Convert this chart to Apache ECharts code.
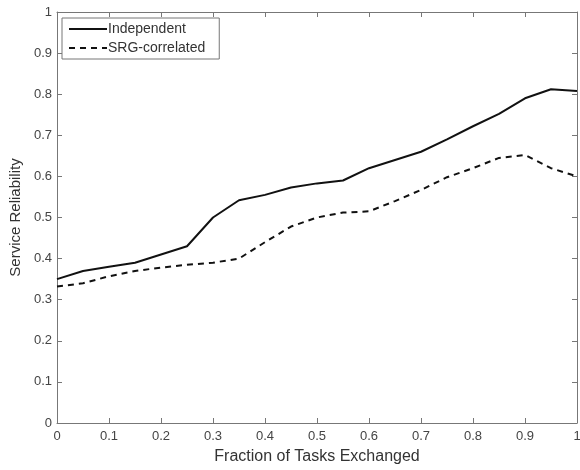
<!DOCTYPE html>
<html>
<head>
<meta charset="utf-8">
<script src="https://cdn.jsdelivr.net/npm/echarts@6/dist/echarts.min.js"></script>
<style>
  html, body { margin: 0; padding: 0; background: #fff; }
  #chart { width: 580px; height: 470px; }
</style>
</head>
<body>
<div id="chart"></div>
<script>
// fraction of tasks exchanged
var fractions = [0, 0.05, 0.1, 0.15, 0.2, 0.25, 0.3, 0.35, 0.4, 0.45, 0.5,
                 0.55, 0.6, 0.65, 0.7, 0.75, 0.8, 0.85, 0.9, 0.95, 1]
var independent = [0.35, 0.37, 0.38, 0.39, 0.41, 0.43, 0.50, 0.542, 0.555, 0.573, 0.583,
                   0.59, 0.62, 0.64, 0.66, 0.69, 0.722, 0.752, 0.79, 0.812, 0.808]
var srgCorrelated = [0.332, 0.34, 0.357, 0.37, 0.378, 0.385, 0.39, 0.40, 0.44, 0.478, 0.50,
                     0.512, 0.515, 0.54, 0.567, 0.598, 0.62, 0.645, 0.652, 0.62, 0.60]

function pairs(ys) {
    return fractions.map(function (x, i) { return [x, ys[i]] })
}

var chart = echarts.init(document.getElementById('chart'))

var tickStyle = { inside: true, length: 5, lineStyle: { color: '#777' } }
var lineAxis = { show: true, onZero: false, lineStyle: { color: '#777', width: 1 } }
var labelStyle = { color: '#444', fontSize: 13, fontFamily: 'Liberation Sans, Arial' }

var option = {
    animation: false,
    grid: { left: 57, top: 12, right: 3, bottom: 47, outerBoundsMode: 'none' },
    legend: {
        orient: 'vertical',
        left: 62,
        top: 18,
        padding: [4, 14, 4, 6],
        itemGap: 5,
        itemWidth: 38,
        itemHeight: 10,
        backgroundColor: '#fff',
        borderColor: '#777',
        borderWidth: 1,
        borderRadius: 0,
        itemStyle: { opacity: 0 },
        textStyle: { color: '#333', fontSize: 14, fontFamily: 'Liberation Sans, Arial', padding: [0, 0, 0, -4] },
        data: ['Independent', 'SRG-correlated']
    },
    xAxis: [
        {
            type: 'value',
            min: 0, max: 1, interval: 0.1,
            name: 'Fraction of Tasks Exchanged',
            nameLocation: 'middle',
            nameGap: 26,
            nameTextStyle: { color: '#333', fontSize: 16, fontFamily: 'Liberation Sans, Arial' },
            axisLine: lineAxis,
            axisTick: tickStyle,
            axisLabel: Object.assign({ margin: 7 }, labelStyle),
            splitLine: { show: false }
        },
        {
            type: 'value',
            position: 'top',
            min: 0, max: 1, interval: 0.1,
            axisLine: lineAxis,
            axisTick: tickStyle,
            axisLabel: { show: false },
            splitLine: { show: false }
        }
    ],
    yAxis: [
        {
            type: 'value',
            min: 0, max: 1, interval: 0.1,
            name: 'Service Reliability',
            nameLocation: 'middle',
            nameGap: 33,
            nameTextStyle: { color: '#333', fontSize: 15, fontFamily: 'Liberation Sans, Arial' },
            axisLine: lineAxis,
            axisTick: tickStyle,
            axisLabel: Object.assign({ margin: 5 }, labelStyle),
            splitLine: { show: false }
        },
        {
            type: 'value',
            position: 'right',
            min: 0, max: 1, interval: 0.1,
            axisLine: lineAxis,
            axisTick: tickStyle,
            axisLabel: { show: false },
            splitLine: { show: false }
        }
    ],
    series: [
        {
            name: 'Independent',
            type: 'line',
            symbol: 'none',
            data: pairs(independent),
            itemStyle: { color: '#111' },
            lineStyle: { color: '#111', width: 2 }
        },
        {
            name: 'SRG-correlated',
            type: 'line',
            symbol: 'none',
            data: pairs(srgCorrelated),
            itemStyle: { color: '#111' },
            lineStyle: { color: '#111', width: 2, type: [6, 5] }
        }
    ]
}

chart.setOption(option)
</script>
</body>
</html>
